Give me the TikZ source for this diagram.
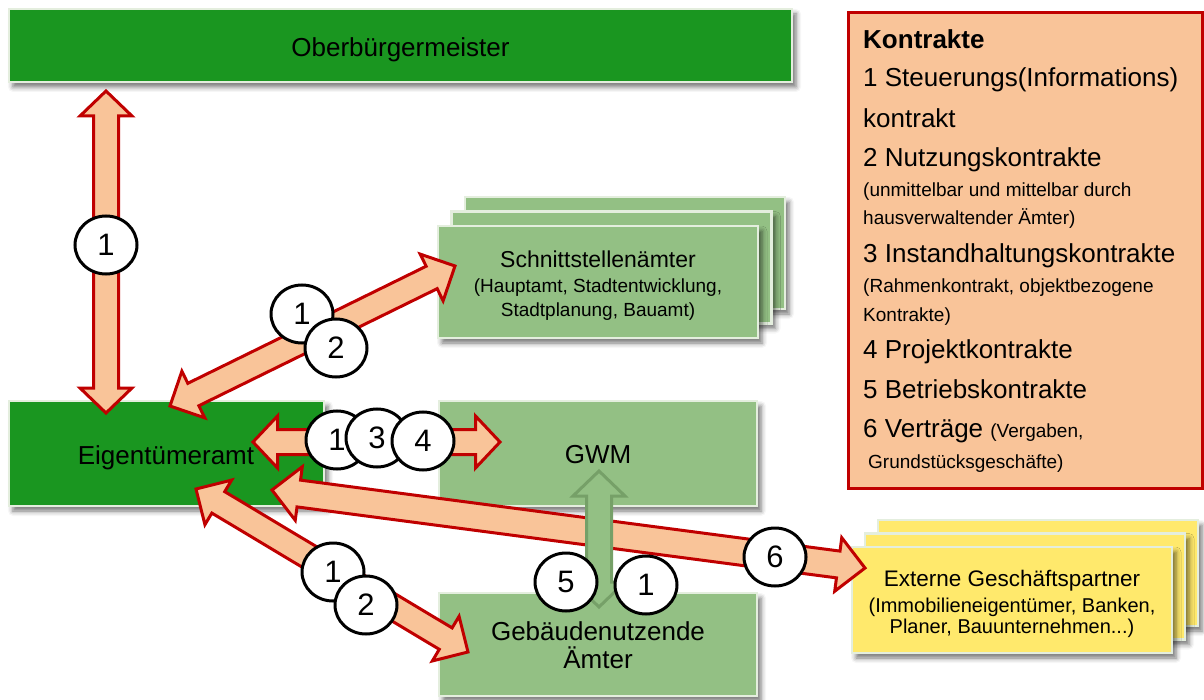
\documentclass[tikz,border=0pt]{standalone}
\usepackage{fontspec}
\setmainfont{Liberation Sans}
\usetikzlibrary{calc,shapes.geometric,shadows.blur}

\definecolor{dkgreen}{RGB}{26,150,32}
\definecolor{ltgreen}{RGB}{147,192,132}
\definecolor{boxedge}{RGB}{228,238,222}
\definecolor{peach}{RGB}{249,196,153}
\definecolor{redline}{RGB}{192,0,0}
\definecolor{yellowbox}{RGB}{255,233,108}
\definecolor{arrowgreen}{RGB}{118,160,104}

\newcommand\fs[1]{\fontsize{#1}{#1}\selectfont}

% block arrow with heads at both ends:
% style, from, to, shaft half width, head half width, head length
\newcommand\twowayarrow[6]{%
  \coordinate (ta) at ($(#2)!#6!(#3)$);
  \coordinate (tb) at ($(#3)!#6!(#2)$);
  \draw[#1] (#2) -- ($(ta)!#5!90:(#3)$) -- ($(ta)!#4!90:(#3)$)
    -- ($(tb)!#4!-90:(#2)$) -- ($(tb)!#5!-90:(#2)$) -- (#3)
    -- ($(tb)!#5!90:(#2)$) -- ($(tb)!#4!90:(#2)$)
    -- ($(ta)!#4!-90:(#3)$) -- ($(ta)!#5!-90:(#3)$) -- cycle;
}

\tikzset{
  box/.style={rectangle, draw=boxedge, line width=2.5pt, inner sep=0pt,
    blur shadow={shadow xshift=4pt, shadow yshift=-5pt, shadow blur radius=5pt, shadow opacity=55}},
  darkbox/.style={box, fill=dkgreen},
  lightbox/.style={box, fill=ltgreen},
  yelbox/.style={box, fill=yellowbox},
  pa/.style={fill=peach, draw=redline, line width=3pt, line join=miter},
  ga/.style={fill=ltgreen, draw=arrowgreen, line width=3pt, line join=miter},
  num/.style={ellipse, draw=black, line width=3pt, fill=white,
    minimum width=62pt, minimum height=58pt, inner sep=0pt, font=\fs{31}},
  lbl/.style={anchor=base, inner sep=0pt},
  leg/.style={anchor=base west, inner sep=0pt, font=\fs{26}},
  legs/.style={anchor=base west, inner sep=0pt, font=\fs{19}},
}

\begin{document}
\begin{tikzpicture}[x=1pt, y=-1pt]
\useasboundingbox (0,0) rectangle (1204,700);

% --- boxes ---
\node[darkbox, minimum width=783pt, minimum height=73pt] (ob) at (400.5,45.5) {};
\node[darkbox, minimum width=315pt, minimum height=105pt] (eig) at (166.5,453.5) {};
\node[lightbox, minimum width=318pt, minimum height=105pt] (gwm) at (598,453.5) {};
\node[lightbox, minimum width=318pt, minimum height=103pt] (geb) at (598,644.5) {};

\node[lightbox, minimum width=320pt, minimum height=112pt] (sst3) at (625,253) {};
\node[lightbox, minimum width=320pt, minimum height=112pt] (sst2) at (611.5,267.5) {};
\node[lightbox, minimum width=320pt, minimum height=112pt] (sst) at (598,282) {};

\node[yelbox, minimum width=320pt, minimum height=106pt] (ext3) at (1038,573) {};
\node[yelbox, minimum width=320pt, minimum height=106pt] (ext2) at (1025,586.5) {};
\node[yelbox, minimum width=320pt, minimum height=106pt] (ext) at (1012,600) {};

% --- box labels ---
\node[lbl, font=\fs{26}] (obt) at (400.5,57) {Oberbürgermeister};
\node[lbl, font=\fs{26}] (eigt) at (166,464) {Eigentümeramt};
\node[lbl, font=\fs{26}] (gwmt) at (598,463) {GWM};
\node[lbl, font=\fs{26}] (gebt1) at (598,640) {Gebäudenutzende};
\node[lbl, font=\fs{26}] (gebt2) at (598,668) {Ämter};

\node[lbl, font=\fs{23}] (sstt1) at (598,267.5) {Schnittstellenämter};
\node[lbl, font=\fs{19}] (sstt2) at (598,292.5) {(Hauptamt, Stadtentwicklung,};
\node[lbl, font=\fs{19}] (sstt3) at (598,317) {Stadtplanung, Bauamt)};

\node[lbl, font=\fs{22.5}] (extt1) at (1012,586) {Externe Geschäftspartner};
\node[lbl, font=\fs{20}] (extt2) at (1012,612) {(Immobilieneigentümer, Banken,};
\node[lbl, font=\fs{20}] (extt3) at (1012,633) {Planer, Bauunternehmen...)};

% --- legend ---
\node[rectangle, draw=redline, fill=peach, line width=3pt, minimum width=354pt,
  minimum height=475pt, inner sep=0pt] (legbox) at (1025,250.5) {};
\node[leg, font=\fs{26}\bfseries] (l0) at (863,49) {Kontrakte};
\node[leg] (l1) at (863,87) {1 Steuerungs(Informations)};
\node[leg] (l2) at (863,128) {kontrakt};
\node[leg] (l3) at (863,167) {2 Nutzungskontrakte};
\node[legs] (l4) at (863,197) {(unmittelbar und mittelbar durch};
\node[legs] (l5) at (863,225) {hausverwaltender Ämter)};
\node[leg] (l6) at (863,263) {3 Instandhaltungskontrakte};
\node[legs] (l7) at (863,293) {(Rahmenkontrakt, objektbezogene};
\node[legs] (l8) at (863,322) {Kontrakte)};
\node[leg] (l9) at (863,358) {4 Projektkontrakte};
\node[leg] (l10) at (863,398) {5 Betriebskontrakte};
\node[leg] (l11) at (863,437) {6 Verträge {\fs{19}(Vergaben,}};
\node[legs] (l12) at (868,468) {Grundstücksgeschäfte)};

% --- arrow end points ---
\coordinate (v1) at (106,91);   \coordinate (v2) at (106,413);
\coordinate (s1) at (170,406);  \coordinate (s2) at (455,266);
\coordinate (h1) at (253,442);  \coordinate (h2) at (500,442);
\coordinate (d1) at (196,489);  \coordinate (d2) at (468,652);
\coordinate (e1) at (272,490);  \coordinate (e2) at (865,568);
\coordinate (g1) at (599,471);  \coordinate (g2) at (599,607);

% --- block arrows ---
\twowayarrow{pa}{v1}{v2}{12.5pt}{26pt}{25pt}
\twowayarrow{pa}{s1}{s2}{12.5pt}{26pt}{26pt}
\twowayarrow{pa}{h1}{h2}{12.5pt}{26pt}{24.5pt}
\twowayarrow{pa}{d1}{d2}{12.5pt}{26pt}{26pt}
\twowayarrow{pa}{e1}{e2}{13.5pt}{27pt}{27pt}
\twowayarrow{ga}{g1}{g2}{12.5pt}{26pt}{25pt}

% --- contract numbers ---
\node[num] (n1v) at (106,245) {1};
\node[num] (n1s) at (302,314) {1};
\node[num] (n2s) at (336,348) {2};
\node[num] (n1h) at (337,440) {1};
\node[num] (n3h) at (377,438) {3};
\node[num] (n4h) at (423,441) {4};
\node[num] (n1d) at (333,572) {1};
\node[num] (n2d) at (366,605) {2};
\node[num] (n5) at (566,582) {5};
\node[num] (n1g) at (646,585) {1};
\node[num] (n6) at (775,557) {6};
\end{tikzpicture}
\end{document}
